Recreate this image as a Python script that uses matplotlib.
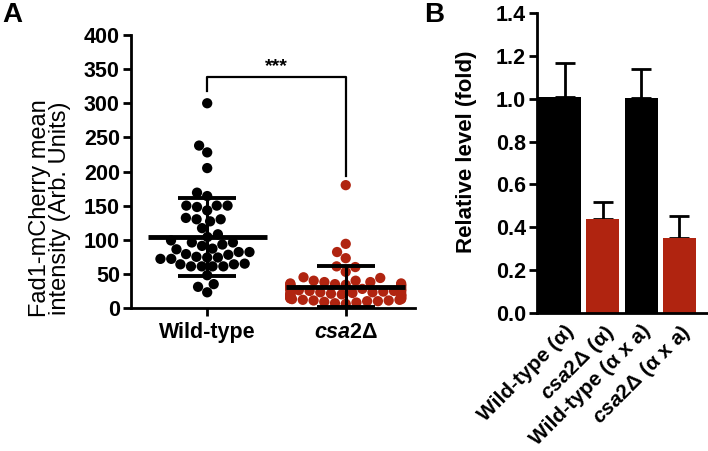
import numpy as np
import pandas as pd
import matplotlib
matplotlib.use('Agg')
import matplotlib.pyplot as plt
import seaborn as sns

plt.rcParams['font.family'] = ['Liberation Sans', 'DejaVu Sans']
plt.rcParams['mathtext.fontset'] = 'custom'
plt.rcParams['mathtext.it'] = 'Liberation Sans:italic:bold'
plt.rcParams['mathtext.rm'] = 'Liberation Sans:bold'

# ---- panel A data
groups_a = ['Wild-type', 'csa2']
wt_vals = [300, 238, 228, 205, 164, 169, 150, 150, 150, 148, 143, 130, 127, 130, 132,
           117, 108, 104, 96, 96, 99,
           93, 87, 82, 78, 74, 72, 72, 74, 75, 79, 82, 86, 91,
           65, 64, 61, 61, 61, 61, 64, 48, 35, 31, 23]
csa_vals = [180, 94, 82, 73, 61, 60, 53, 45, 44,
            40, 38, 36, 35, 34, 33, 33, 33, 34, 35, 36, 38, 40,
            31, 30, 29, 29, 28, 28, 27, 27, 26, 26, 25, 25, 24, 24, 23, 23, 22, 22,
            21, 21, 20, 20, 19, 19, 18, 18, 17, 17, 16, 16, 15, 15, 14, 14, 13, 13,
            12, 12, 11, 11, 10, 10, 9, 8, 7, 6]
means_a = [104, 31]
sds_a = [57, 30]
bracket_y = [318, 339, 194]

# ---- panel B data
labels_b = ['Wild-type (α)', r'$\mathit{csa2}$Δ (α)', 'Wild-type (α x a)', r'$\mathit{csa2}$Δ (α x a)']
vals_b = [1.01, 0.44, 1.005, 0.35]
err_b = [0.155, 0.08, 0.135, 0.105]

black = '#000000'
red = '#b02410'

fig = plt.figure(figsize=(7.08, 4.51), dpi=100)

# ---------------- panel A
axA = fig.add_axes([131/708, 143/451, 284/708, 273/451])
df = pd.DataFrame({'group': ['Wild-type']*len(wt_vals) + ['csa2']*len(csa_vals),
                   'value': wt_vals + csa_vals})
sns.swarmplot(data=df, x='group', y='value', hue='group', palette=[black, red],
              size=7.4, linewidth=0, ax=axA, legend=False, zorder=2, warn_thresh=1)
for i, (m, s) in enumerate(zip(means_a, sds_a)):
    axA.hlines(m, i-0.43, i+0.43, color='black', lw=3.5, zorder=4)
    axA.hlines(m+s, i-0.21, i+0.21, color='black', lw=2.8, zorder=4)
    lo = max(m-s, 0)
    axA.hlines(lo, i-0.21, i+0.21, color='black', lw=2.8, zorder=4, clip_on=False)
    axA.vlines(i, lo, m+s, color='black', lw=2.2, zorder=4)

axA.plot([0, 0, 1, 1], [bracket_y[0], bracket_y[1], bracket_y[1], bracket_y[2]],
         color='black', lw=1.6, zorder=3)
axA.text(0.5, bracket_y[1] + 2, '***', ha='center', va='bottom', fontsize=14, fontweight='bold')

axA.set_xlim(-0.55, 1.5)
axA.set_ylim(0, 400)
axA.set_yticks(np.arange(0, 401, 50))
axA.set_xticks([0, 1])
axA.set_xticklabels(['Wild-type', r'$\mathit{csa2}$Δ'], fontsize=15.5, fontweight='bold')
axA.set_xlabel('')
axA.set_ylabel('')
for lab in axA.get_yticklabels():
    lab.set_fontsize(15.5)
    lab.set_fontweight('bold')
for sp in ['top', 'right']:
    axA.spines[sp].set_visible(False)
for sp in ['left', 'bottom']:
    axA.spines[sp].set_linewidth(2)
axA.tick_params(axis='both', width=2, length=6, direction='out')
axA.tick_params(axis='x', pad=4)
axA.tick_params(axis='y', pad=2)

fig.text(50/708, 1 - 208/451, 'Fad1-mCherry mean\nintensity (Arb. Units)', rotation=90,
         ha='center', va='center', fontsize=17, linespacing=0.92)

# ---------------- panel B
axB = fig.add_axes([537/708, 138/451, 170/708, 300/451])
x = np.arange(len(vals_b))
half = 0.43
xmin = -0.72
lefts = x - half
lefts[0] = xmin
widths = x + half - lefts
colors_b = [black, red, black, red]
axB.bar(lefts, vals_b, width=widths, align='edge', color=colors_b, zorder=2)
axB.errorbar(x, vals_b, yerr=[np.zeros(len(err_b)), err_b], fmt='none', ecolor='black',
             elinewidth=2, capsize=7, capthick=2, zorder=1)
axB.set_xlim(xmin, 3.72)
axB.set_ylim(0, 1.4)
axB.set_yticks(np.arange(0, 1.41, 0.2))
axB.set_yticklabels(['%.1f' % v for v in np.arange(0, 1.41, 0.2)], fontsize=15.5, fontweight='bold')
axB.set_xticks(x)
axB.set_xticklabels(labels_b, rotation=45, ha='right', rotation_mode='anchor',
                    fontsize=15, fontweight='bold')
for sp in ['top', 'right']:
    axB.spines[sp].set_visible(False)
for sp in ['left', 'bottom']:
    axB.spines[sp].set_linewidth(2)
axB.tick_params(axis='y', width=2, length=6, pad=2)
axB.tick_params(axis='x', length=0, pad=6)

fig.text(467/708, 1 - 152/451, 'Relative level (fold)', rotation=90,
         ha='center', va='center', fontsize=16, fontweight='bold')

fig.text(2/708, 1 - 2/451, 'A', ha='left', va='top', fontsize=20, fontweight='bold')
fig.text(424/708, 1 - 2/451, 'B', ha='left', va='top', fontsize=20, fontweight='bold')

fig.savefig('out.png', dpi=100)
